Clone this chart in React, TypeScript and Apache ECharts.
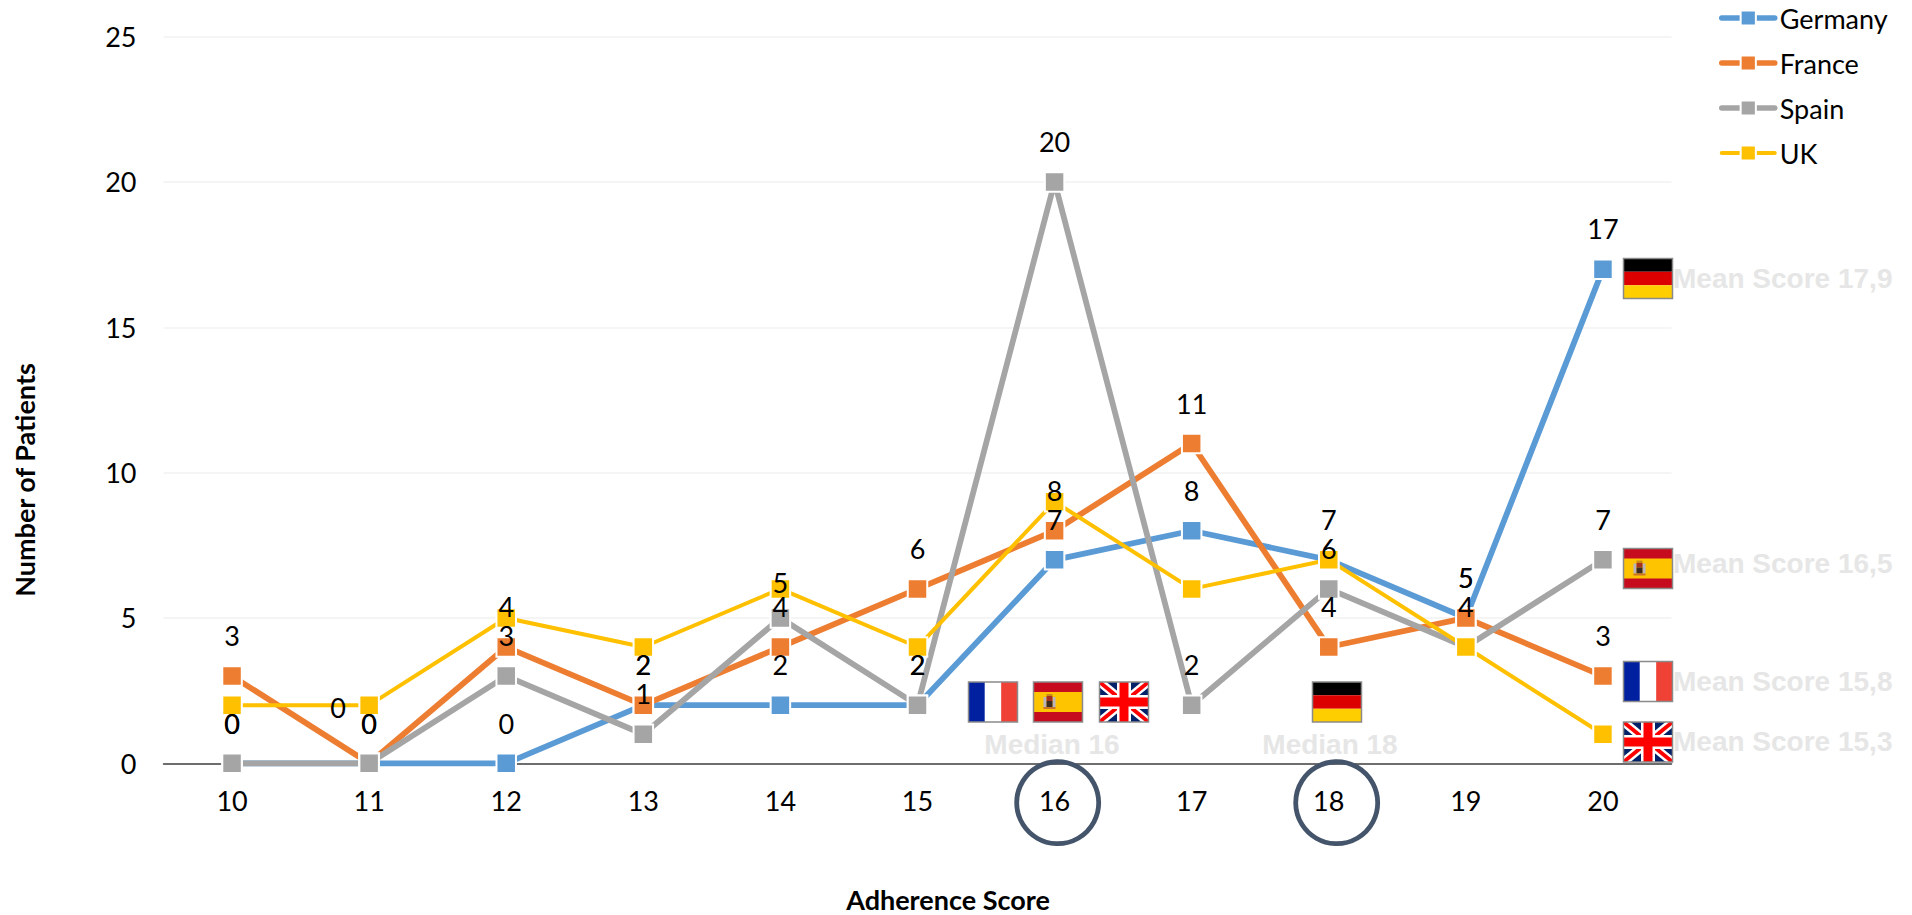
import React, { useEffect, useRef } from "react";
import * as echarts from "echarts";

const categories = ["10", "11", "12", "13", "14", "15", "16", "17", "18", "19", "20"];
const germany = [0, 0, 0, 2, 2, 2, 7, 8, 7, 5, 17];
const france = [3, 0, 4, 2, 4, 6, 8, 11, 4, 5, 3];
const spain = [0, 0, 3, 1, 5, 2, 20, 2, 6, 4, 7];
const uk = [2, 2, 5, 4, 6, 4, 9, 6, 7, 4, 1];

const BLUE = "#5B9BD5";
const ORANGE = "#ED7D31";
const GRAY = "#A5A5A5";
const YELLOW = "#FFC000";
const FONT = "Lato, Carlito, sans-serif";
const GHOST = "#E6E6E6";

const meanNotes = [
  { text: "Mean Score 17,9", y: 278 },
  { text: "Mean Score 16,5", y: 563 },
  { text: "Mean Score 15,8", y: 681 },
  { text: "Mean Score 15,3", y: 741 },
];
const medianNotes = [
  { text: "Median 16", x: 1052, y: 744 },
  { text: "Median 18", x: 1330, y: 744 },
];
const rings = [
  { x: 1057.7, y: 802.7 },
  { x: 1336.7, y: 802.7 },
];
const flags = [
  { kind: "de", x: 1623.5, y: 258.5 },
  { kind: "es", x: 1623.5, y: 548.5 },
  { kind: "fr", x: 1623.5, y: 661.5 },
  { kind: "uk", x: 1623.5, y: 722 },
  { kind: "fr", x: 968.5, y: 682 },
  { kind: "es", x: 1033.5, y: 682 },
  { kind: "uk", x: 1099.5, y: 682 },
  { kind: "de", x: 1312.5, y: 682 },
];

const W = 49;
const H = 40;

function band(x: number, y: number, w: number, h: number, fill: string) {
  return { type: "rect", shape: { x, y, width: w, height: h }, style: { fill } };
}
function poly(points: number[][], fill: string) {
  return { type: "polygon", shape: { points }, style: { fill } };
}
function diagonals(a: number, b: number, fill: string) {
  return [
    poly([[0, 0], [a, 0], [W, H - b], [W, H], [W - a, H], [0, b]], fill),
    poly([[W, 0], [W - a, 0], [0, H - b], [0, H], [a, H], [W, b]], fill),
  ];
}
function flagChildren(kind: string): any[] {
  if (kind === "de") {
    return [band(0, 0, W, H / 3, "#000000"), band(0, H / 3, W, H / 3, "#DD0000"), band(0, (2 * H) / 3, W, H / 3, "#FFCE00")];
  }
  if (kind === "fr") {
    return [band(0, 0, W / 3, H, "#00209F"), band(W / 3, 0, W / 3, H, "#FFFFFF"), band((2 * W) / 3, 0, W / 3, H, "#EF4135")];
  }
  if (kind === "es") {
    return [
      band(0, 0, W, H, "#C60B1E"),
      band(0, 10, W, 20, "#FFC400"),
      band(10, 15, 3, 10, "#B9B4C0"),
      band(19, 15, 3, 10, "#B9B4C0"),
      band(13, 14, 6, 5, "#A5301E"),
      band(13, 19, 6, 6, "#3A2A20"),
      band(13, 12, 6, 2, "#C98A1A"),
      band(10, 25, 12, 2, "#C9742A"),
    ];
  }
  return [
    band(0, 0, W, H, "#012169"),
    ...diagonals(7, 5.5, "#FFFFFF"),
    ...diagonals(3, 2.5, "#FF0000"),
    band(W / 2 - 7, 0, 14, H, "#FFFFFF"),
    band(0, H / 2 - 7, W, 14, "#FFFFFF"),
    band(W / 2 - 4.5, 0, 9, H, "#FF0000"),
    band(0, H / 2 - 4.5, W, 9, "#FF0000"),
  ];
}

function makeSeries(name: string, values: number[], color: string, width: number, labelled: boolean, offsets: Record<number, number[]> = {}) {
  return {
    name,
    type: "line",
    clip: false,
    symbol: "rect",
    symbolSize: 19.5,
    lineStyle: { color, width, cap: "butt" },
    itemStyle: { color, borderColor: "#FFFFFF", borderWidth: 2 },
    label: { show: labelled, position: "top", distance: 16, color: "#000", fontFamily: FONT, fontSize: 27 },
    data: values.map((v, i) => (offsets[i] ? { value: v, label: { offset: offsets[i] } } : v)),
  };
}

export default function App() {
  const ref = useRef<HTMLDivElement>(null);
  useEffect(() => {
    document.body.style.margin = "0";
    const chart = echarts.init(ref.current!, undefined, { renderer: "svg" });
    const graphics: any[] = [
      {
        type: "text", z: 10, x: 948, y: 899,
        style: { text: "Adherence Score", fontFamily: FONT, fontWeight: "bold", fontSize: 27, fill: "#000", textAlign: "center", textVerticalAlign: "middle" },
      },
      {
        type: "text", z: 10, x: 24, y: 480, rotation: Math.PI / 2,
        style: { text: "Number of Patients", fontFamily: FONT, fontWeight: "bold", fontSize: 27, fill: "#000", textAlign: "center", textVerticalAlign: "middle" },
      },
      ...meanNotes.map((n) => ({
        type: "text", z: 10, x: 1673, y: n.y,
        style: { text: n.text, fontFamily: "Liberation Sans", fontWeight: "bold", fontSize: 28, fill: GHOST, textAlign: "left", textVerticalAlign: "middle" },
      })),
      ...medianNotes.map((n) => ({
        type: "text", z: 10, x: n.x, y: n.y,
        style: { text: n.text, fontFamily: "Liberation Sans", fontWeight: "bold", fontSize: 28, fill: GHOST, textAlign: "center", textVerticalAlign: "middle" },
      })),
      ...rings.map((r) => ({
        type: "circle", z: 10, shape: { cx: r.x, cy: r.y, r: 41 },
        style: { fill: "none", stroke: "#44546A", lineWidth: 4.8 },
      })),
      ...flags.map((f) => ({
        type: "group", x: f.x, y: f.y,
        children: [
          ...flagChildren(f.kind).map((c) => ({ ...c, z: 11 })),
          { type: "rect", z: 12, shape: { x: 0, y: 0, width: W, height: H }, style: { fill: "none", stroke: "#8A8A8A", lineWidth: 1.5 } },
        ],
      })),
    ];
    chart.setOption({
      animation: false,
      backgroundColor: "#FFFFFF",
      grid: { left: 163.5, top: 36.6, width: 1508, height: 726.7, containLabel: false },
      legend: {
        left: 1719, top: 4.5, padding: 0, orient: "vertical",
        itemWidth: 53, itemHeight: 19, itemGap: 18,
        textStyle: { fontFamily: FONT, fontSize: 27, color: "#000" },
        data: [
          { name: "Germany", lineStyle: { width: 5.5, cap: "round" } },
          { name: "France", lineStyle: { width: 5.5, cap: "round" } },
          { name: "Spain", lineStyle: { width: 5.5, cap: "round" } },
          { name: "UK", lineStyle: { width: 4, cap: "round" } },
        ],
      },
      xAxis: {
        type: "category", data: categories, boundaryGap: true,
        axisLine: { lineStyle: { color: "#404040", width: 1.5 } },
        axisTick: { show: false },
        axisLabel: { color: "#000", fontFamily: FONT, fontSize: 27, margin: 24 },
      },
      yAxis: {
        type: "value", min: 0, max: 25, interval: 5,
        axisLine: { show: false }, axisTick: { show: false },
        axisLabel: { color: "#000", fontFamily: FONT, fontSize: 27, margin: 27 },
        splitLine: { lineStyle: { color: "#F2F2F2", width: 1.5 } },
      },
      series: [
        makeSeries("Germany", germany, BLUE, 5.8, true),
        makeSeries("France", france, ORANGE, 5.8, true, { 1: [-31, -16] }),
        makeSeries("Spain", spain, GRAY, 5.8, true, { 4: [0, 5] }),
        makeSeries("UK", uk, YELLOW, 4, false),
      ],
      graphic: graphics,
    });
    return () => chart.dispose();
  }, []);
  return <div ref={ref} style={{ width: 1912, height: 915 }} />;
}
